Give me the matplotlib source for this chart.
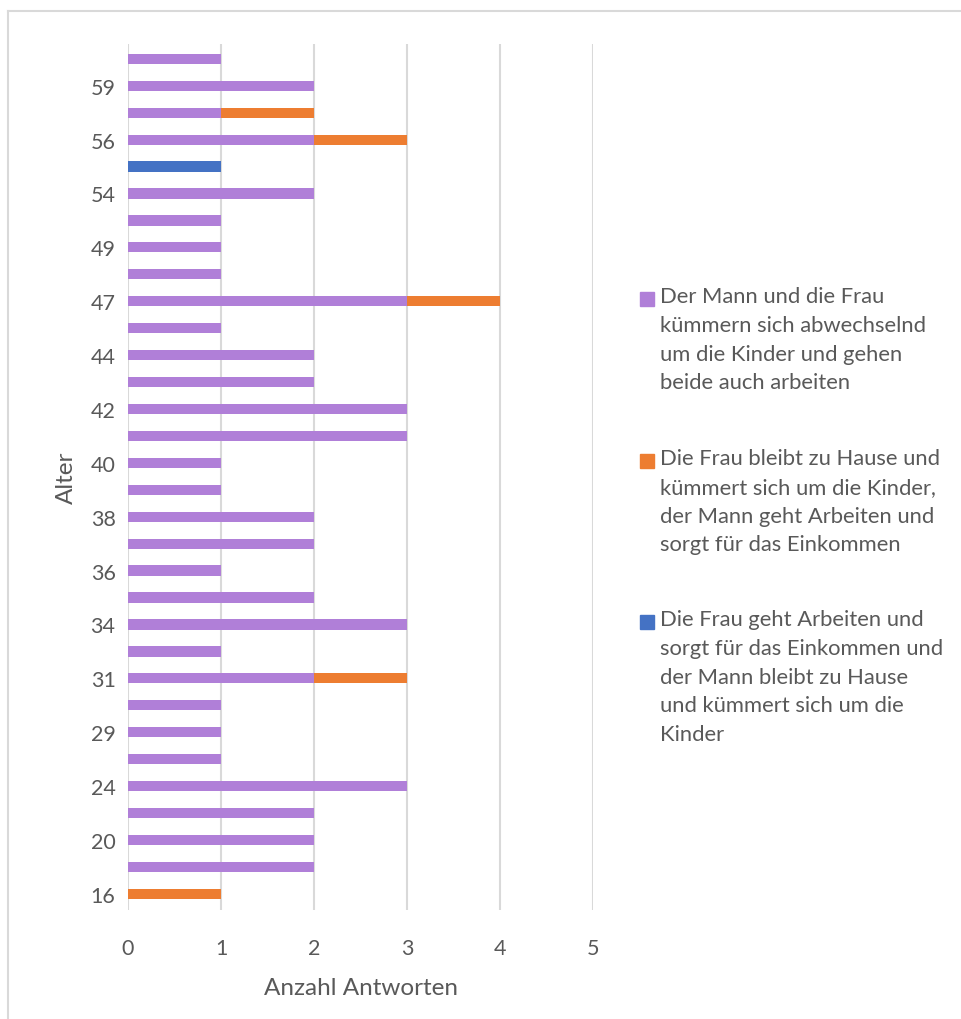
import numpy as np
import matplotlib
matplotlib.use("Agg")
import matplotlib.pyplot as plt
from matplotlib.patches import Rectangle
from matplotlib.lines import Line2D

plt.rcParams['font.family'] = ['Lato', 'DejaVu Sans']

# Altersgruppen von unten nach oben (jede zweite ist im Original beschriftet)
ages = ['16', '18', '20', '22', '24', '27', '29', '30', '31', '33', '34', '35',
        '36', '37', '38', '39', '40', '41', '42', '43', '44', '45', '47', '48',
        '49', '52', '54', '55', '56', '57', '59', '60']

# Antworten je Kategorie
frau_arbeitet = [0, 0, 0, 0, 0, 0, 0, 0, 0, 0, 0, 0, 0, 0, 0, 0,
                 0, 0, 0, 0, 0, 0, 0, 0, 0, 0, 0, 1, 0, 0, 0, 0]
beide = [0, 2, 2, 2, 3, 1, 1, 1, 2, 1, 3, 2, 1, 2, 2, 1,
         1, 3, 3, 2, 2, 1, 3, 1, 1, 1, 2, 0, 2, 1, 2, 1]
frau_zuhause = [1, 0, 0, 0, 0, 0, 0, 0, 1, 0, 0, 0, 0, 0, 0, 0,
                0, 0, 0, 0, 0, 0, 1, 0, 0, 0, 0, 0, 1, 1, 0, 0]

labels = [
    "Der Mann und die Frau\nkümmern sich abwechselnd\num die Kinder und gehen\nbeide auch arbeiten",
    "Die Frau bleibt zu Hause und\nkümmert sich um die Kinder,\nder Mann geht Arbeiten und\nsorgt für das Einkommen",
    "Die Frau geht Arbeiten und\nsorgt für das Einkommen und\nder Mann bleibt zu Hause\nund kümmert sich um die\nKinder",
]

c_purple = '#B07FD8'
c_orange = '#ED7D31'
c_blue = '#4472C4'
txt = '#595959'
grid_c = '#D9D9D9'

W, H = 961, 1020
fig = plt.figure(figsize=(W / 100, H / 100), dpi=100)
ax = fig.add_axes([128 / W, 1 - 911 / H, (593 - 128) / W, (911 - 45) / H])

y = np.arange(len(ages))
b1 = np.array(frau_arbeitet)
b2 = np.array(beide)
b3 = np.array(frau_zuhause)
h = 0.38
ax.barh(y, b1, height=h, color=c_blue, zorder=3)
ax.barh(y, b2, left=b1, height=h, color=c_purple, zorder=3)
ax.barh(y, b3, left=b1 + b2, height=h, color=c_orange, zorder=3)

ax.set_xlim(0, 5)
ax.set_ylim(-0.6, len(ages) - 0.45)
ax.set_xticks(range(6))
ax.set_yticks(y[::2])
ax.set_yticklabels(ages[::2])
ax.tick_params(length=0, labelsize=15.5, colors=txt)
ax.tick_params(axis='x', pad=20)
ax.tick_params(axis='y', pad=9)
ax.xaxis.grid(True, color=grid_c, linewidth=1.5, zorder=0)
for s in ax.spines.values():
    s.set_visible(False)

ax.set_xlabel('Anzahl Antworten', fontsize=17.5, color=txt, labelpad=14)
ax.set_ylabel('Alter', fontsize=17.5, color=txt, labelpad=10)

# Legende rechts, Marker an der ersten Zeile
leg_y = [300, 462, 623]
for c, lab, ly in zip([c_purple, c_orange, c_blue], labels, leg_y):
    fig.patches.append(Rectangle((640 / W, 1 - (ly + 7) / H), 14 / W, 14 / H,
                                 transform=fig.transFigure, color=c, figure=fig))
    fig.text(660 / W, 1 - (ly - 13) / H, lab, fontsize=15.8, color=txt,
             va='top', ha='left', linespacing=1.55)

# Rahmen des Diagrammbereichs
fig.add_artist(Line2D([8 / W, 8 / W], [0, 1 - 12 / H], transform=fig.transFigure,
                      color=grid_c, linewidth=1.5))
fig.add_artist(Line2D([8 / W, 1], [1 - 12 / H, 1 - 12 / H], transform=fig.transFigure,
                      color=grid_c, linewidth=1.5))

fig.savefig('out.png', dpi=100)
